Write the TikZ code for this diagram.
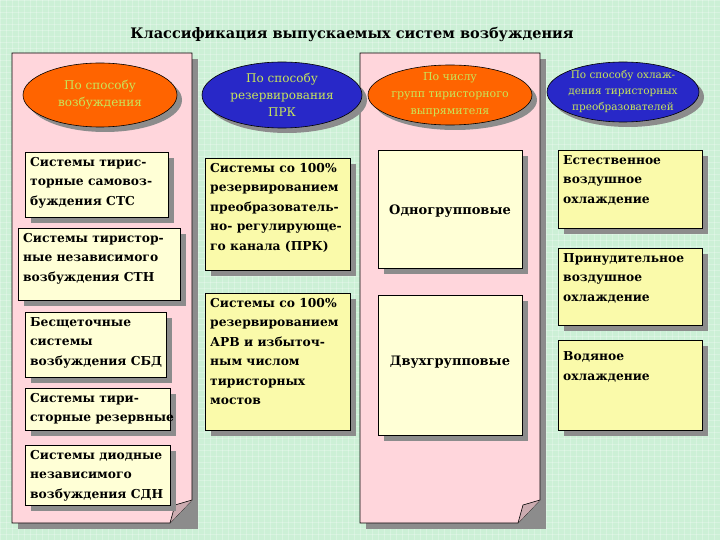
\documentclass[tikz,border=0pt]{standalone}
\usepackage{fontspec}
\setmainfont{DejaVu Serif}
\definecolor{bg}{RGB}{204,240,214}
\definecolor{panel}{RGB}{255,214,220}
\definecolor{boxa}{RGB}{255,255,214}
\definecolor{boxb}{RGB}{250,250,170}
\definecolor{ovo}{RGB}{255,100,0}
\definecolor{ovb}{RGB}{40,40,200}
\definecolor{ovt}{RGB}{200,230,90}
\definecolor{shd}{RGB}{140,140,140}
\usetikzlibrary{shapes.geometric}
\tikzset{
 panelbox/.style={fill=panel,draw=black,line width=0.6pt},
 ov/.style={ellipse,draw=black,line width=0.6pt,inner sep=0pt},
 ovtext/.style={text=ovt,align=center,font=\fontsize{12}{17}\selectfont,inner sep=0pt},
 bx/.style={align=left,anchor=north west,inner sep=5pt,font=\bfseries\fontsize{12.3}{19.5}\selectfont},
}
\begin{document}
\begin{tikzpicture}[x=1pt,y=-1pt]
\useasboundingbox (0,0) rectangle (720,540);
\fill[bg] (0,0) rectangle (720,540);
\foreach \i in {0,6,...,720}{\draw[white,opacity=0.25,line width=0.5pt] (\i,0)--(\i,540);}
\foreach \i in {0,6,...,540}{\draw[white,opacity=0.25,line width=0.5pt] (0,\i)--(720,\i);}
\node (title) at (352,34) {\bfseries\fontsize{14.5}{20}\selectfont Классификация выпускаемых систем возбуждения};
% panels
\foreach \x/\n in {12/p1,360/p3}{
 \fill[shd] (\x+6,59) rectangle (\x+186,529);
 \draw[panelbox] (\x,53) -- (\x+180,53) -- (\x+180,500) -- (\x+158,523) -- (\x,523) -- cycle;
 \draw[black,line width=0.6pt,fill=panel!80!black] (\x+180,500) -- (\x+163,505) -- (\x+158,523);
}
% ovals
\newcommand\myov[6]{\fill[shd] (#1+5,#2+5) ellipse ({#3} and {#4});
 \node[ov,fill=#5,minimum width=2*#3,minimum height=2*#4] (#6) at (#1,#2) {};}
\myov{100}{95}{77}{32}{ovo}{o1}
\node[ovtext] at (o1) {По способу\\возбуждения};
\myov{282}{95}{80}{33}{ovb}{o2}
\node[ovtext] at (o2) {По способу\\резервирования\\ПРК};
\myov{450}{95}{82}{30}{ovo}{o3}
\node[ovtext,font=\fontsize{11}{17}\selectfont] at (o3) {По числу\\групп тиристорного\\выпрямителя};
\myov{623}{92}{76}{30}{ovb}{o4}
\node[ovtext,font=\fontsize{10.5}{16}\selectfont] at (o4) {По способу охлаж-\\дения тиристорных\\преобразователей};
% boxes
\newcommand\mybox[7]{\fill[shd] (#1+6,#2+6) rectangle (#3+6,#4+6);
 \draw[fill=#5,line width=0.6pt] (#1,#2) rectangle (#3,#4);
 \node[bx] (#6) at (#1,#2) {#7};}
\mybox{25}{152}{168}{217}{boxa}{b11}{Системы тирис-\\торные самовоз-\\буждения СТС}
\mybox{18}{228}{180}{300}{boxa}{b12}{Системы тиристор-\\ные независимого\\возбуждения СТН}
\mybox{25}{312}{166}{377}{boxa}{b13}{Бесщеточные\\системы\\возбуждения СБД}
\mybox{25}{388}{170}{430}{boxa}{b14}{Системы тири-\\сторные резервные}
\mybox{25}{445}{170}{505}{boxa}{b15}{Системы диодные\\независимого\\возбуждения СДН}
\mybox{205}{158}{350}{270}{boxb}{b21}{Системы со 100\%\\резервированием\\преобразователь-\\но- регулирующе-\\го канала (ПРК)}
\mybox{205}{293}{350}{430}{boxb}{b22}{Системы со 100\%\\резервированием\\АРВ и избыточ-\\ным числом\\тиристорных\\мостов}
\mybox{378}{150}{522}{268}{boxa}{b31}{}
\node[font=\bfseries\fontsize{13}{19}\selectfont] at (450,211) {Одногрупповые};
\mybox{378}{295}{522}{435}{boxa}{b32}{}
\node[font=\bfseries\fontsize{13}{19}\selectfont] at (450,362) {Двухгрупповые};
\mybox{558}{150}{702}{228}{boxb}{b41}{Естественное\\воздушное\\охлаждение}
\mybox{558}{248}{702}{325}{boxb}{b42}{Принудительное\\воздушное\\охлаждение}
\mybox{558}{340}{702}{430}{boxb}{b43}{\\[-4pt]Водяное\\охлаждение}
\end{tikzpicture}
\end{document}
